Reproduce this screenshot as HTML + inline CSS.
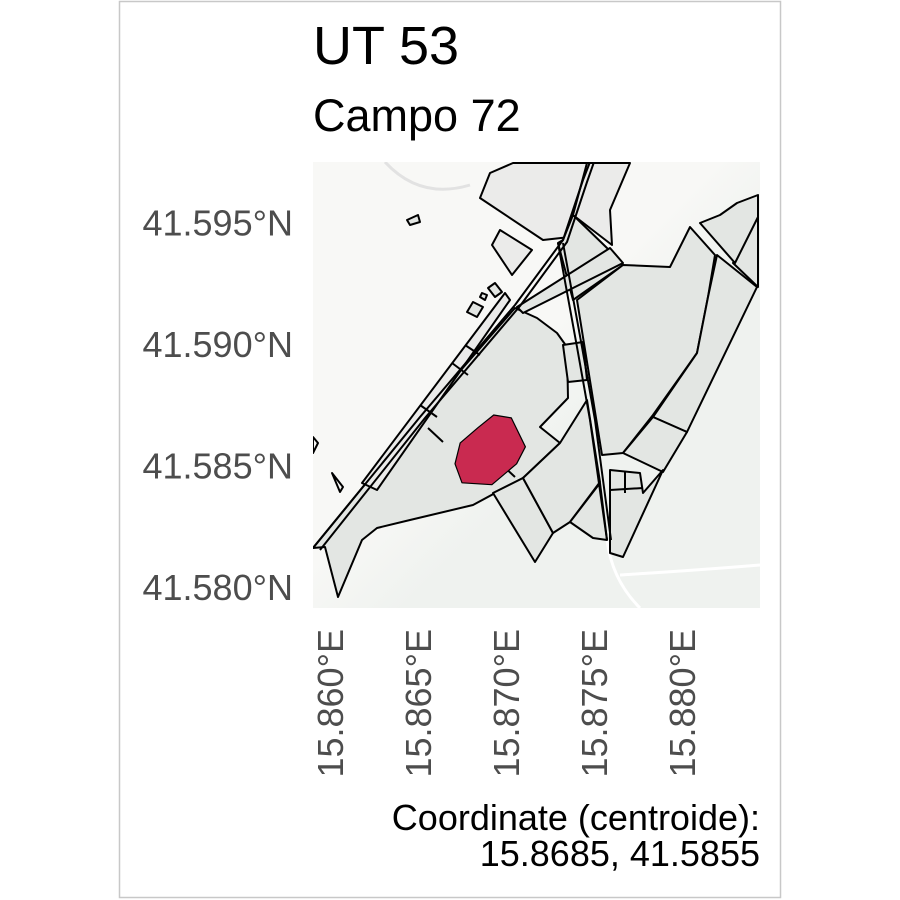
<!DOCTYPE html>
<html><head><meta charset="utf-8"><style>
html,body{margin:0;padding:0;background:#fff;}
svg{display:block;font-family:"Liberation Sans",sans-serif;}
</style></head><body>
<svg id="chart" width="900" height="900" viewBox="0 0 900 900">
<rect x="119.5" y="1.5" width="661" height="896" fill="#fff" stroke="#c8c8c8" stroke-width="1.5"/>
<text x="313" y="64" font-size="54" fill="#000">UT 53</text>
<text x="313" y="131" font-size="45" fill="#000">Campo 72</text>
<g id="map">
<defs><linearGradient id="bg" x1="0" y1="0" x2="1" y2="1"><stop offset="0.45" stop-color="#f8f8f6"/><stop offset="0.6" stop-color="#eff2ef"/></linearGradient>
<clipPath id="clip"><rect x="313" y="162" width="447" height="446"/></clipPath></defs>
<rect x="313" y="162" width="447" height="446" fill="url(#bg)"/>
<g clip-path="url(#clip)" stroke="#000" stroke-width="2" stroke-linejoin="round" fill="#e3e6e3">
<path d="M385,162 Q420,200 470,185" fill="none" stroke="#e2e2e2" stroke-width="3"/>
<path d="M607,540 Q612,580 640,608 M620,575 Q700,570 760,565" fill="none" stroke="#fff" stroke-width="3"/>
<polygon points="313,548 325,547 338,597 362,540 377,528 410,520 473,505 523,478 560,443 540,427 568,398 567,347 557,333 537,318 515,308 420,417"/>
<polygon fill="#ebebea" points="362,483 377,490 510,300 505,293"/>
<polygon fill="#ebebea" points="480,198 490,173 513,163 587,163 570,237 543,240"/>
<polygon fill="#ebebea" points="492,245 500,230 532,250 512,275"/>
<polygon points="563,240 573,215 607,248 623,265 573,300 558,243"/>
<polygon points="517,307 523,313 623,263 610,248"/>
<polygon fill="#ebebea" points="587,163 630,163 610,210 612,245 573,215"/>
<polygon points="577,300 623,265 670,267 690,227 715,255 708,297 697,353 653,415 623,453 602,455"/>
<polygon points="717,255 757,287 687,432 653,417 697,353 708,297"/>
<polygon points="733,263 758,217 758,287"/>
<polygon points="700,223 720,215 737,203 758,195 758,217 735,263"/>
<polygon points="623,453 653,417 687,432 663,472"/>
<polygon points="610,470 640,473 643,493 663,470 623,557 610,553"/>
<polygon points="493,493 535,562 553,533 523,478"/>
<polygon points="523,478 553,533 570,522 600,482 587,400 560,443"/>
<polygon points="570,522 593,538 607,540 600,483"/>
<polygon points="563,345 583,342 587,380 568,382"/>
<polyline fill="none" points="313,548 420,417 515,305 563,240 583,180 590,162"/>
<polyline fill="none" points="320,550 425,418 520,306 567,242 587,182 594,162"/>
<polyline fill="none" points="558,243 577,347 590,420 607,540"/>
<polyline fill="none" points="563,243 582,347 595,420 611,540"/>
<path fill="none" d="M420,405 L437,417 M452,363 L468,375 M465,345 L480,355 M443,442 L428,428 M500,463 L515,477 M610,490 L643,488 M625,472 L625,493"/>
<polygon points="407,220 418,215 420,222 410,225"/>
<polygon points="467,312 477,317 483,307 473,302"/>
<polygon points="480,297 485,300 487,295 482,293"/>
<polygon points="488,288 495,283 502,292 495,297"/>
<polygon fill="none" points="313,437 318,443 313,453"/>
<polygon fill="none" points="332,473 343,487 340,492"/>
<polygon id="target" fill="#c92a50" stroke-width="1.2" points=""/>
</g>
</g>
<g id="yaxis"></g>
<g id="xaxis"></g>
<text x="760" y="830" font-size="36" text-anchor="end" fill="#000">Coordinate (centroide):</text>
<text x="760" y="866" font-size="36" text-anchor="end" fill="#000">15.8685, 41.5855</text>
</svg>
<script>
const latTicks = [41.595, 41.590, 41.585, 41.580];
const latLabels = ["41.595°N", "41.590°N", "41.585°N", "41.580°N"];
const lonTicks = [15.860, 15.865, 15.870, 15.875, 15.880];
const lonLabels = ["15.860°E", "15.865°E", "15.870°E", "15.875°E", "15.880°E"];
const targetLon = [15.8693, 15.8703, 15.8711, 15.8706, 15.8692, 15.8675, 15.8671, 15.8674, 15.8684];
const targetLat = [41.58708, 41.58696, 41.58577, 41.58507, 41.58421, 41.58429, 41.58507, 41.58593, 41.58655];
function xs(lon){ return 330 + (lon - 15.860) * 17600; }
function ys(lat){ return 587 - (lat - 41.580) * 24300; }
const NS = "http://www.w3.org/2000/svg";
const ya = document.getElementById('yaxis');
latTicks.forEach((v,i)=>{
  const t = document.createElementNS(NS,'text');
  
  
  t.setAttribute('x', 293); t.setAttribute('y', ys(v)+13);
  t.setAttribute('text-anchor','end'); t.setAttribute('font-size','36'); t.setAttribute('fill','#4d4d4d');
  t.textContent = latLabels[i]; ya.appendChild(t);
});
const xa = document.getElementById('xaxis');
lonTicks.forEach((v,i)=>{
  const t = document.createElementNS(NS,'text');
  
  
  const x = xs(v)+13, y = 629;
  t.setAttribute('transform', 'translate('+x+','+y+') rotate(-90)');
  t.setAttribute('text-anchor','end'); t.setAttribute('font-size','36'); t.setAttribute('fill','#4d4d4d');
  t.textContent = lonLabels[i]; xa.appendChild(t);
});
document.getElementById('target').setAttribute('points', targetLon.map((lo,i)=>xs(lo).toFixed(1)+','+ys(targetLat[i]).toFixed(1)).join(' '));
</script>
</body></html>
